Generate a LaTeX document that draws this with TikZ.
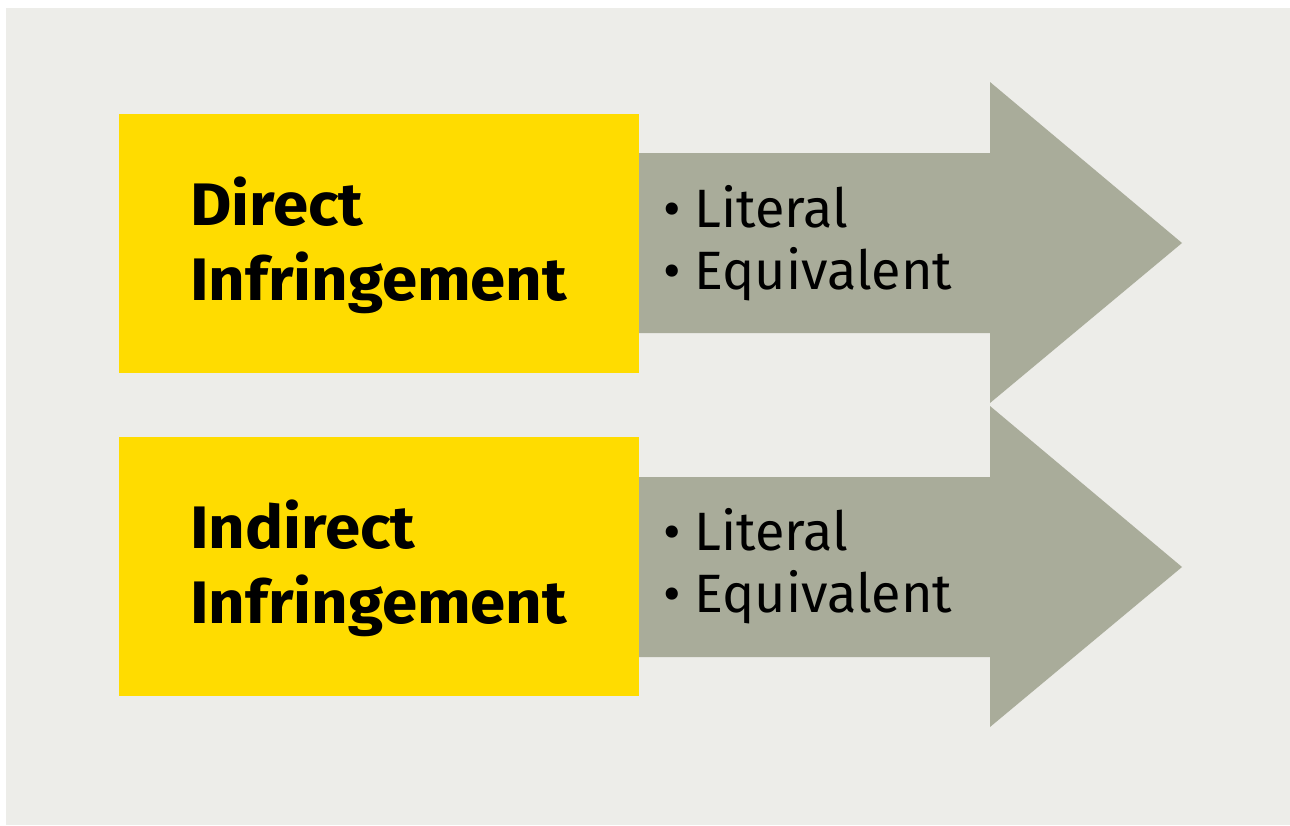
\documentclass[tikz,border=0pt]{standalone}
\usepackage{fontspec}
\setmainfont{Fira Sans}
\newfontfamily\headfont{Fira Sans}[FakeStretch=1.06]
\definecolor{paper}{HTML}{EDEDE9}
\definecolor{boxyellow}{HTML}{FFDC00}
\definecolor{arrowgray}{HTML}{A9AC9A}
\tikzset{
    kindbox/.style={fill=boxyellow, draw=none, minimum width=520pt, minimum height=259pt, anchor=north west, inner sep=0pt},
    kindtext/.style={anchor=base west, inner sep=0pt, font=\headfont\fontsize{60}{72}\selectfont\bfseries},
    itemtext/.style={anchor=base west, inner sep=0pt, font=\fontsize{54}{64}\selectfont},
}
\begin{document}
\begin{tikzpicture}[x=1pt, y=-1pt]
        \fill[white] (0,0) rectangle (1290, 825);
        \fill[paper] (6,8) rectangle (1290, 825);
        \useasboundingbox (0,0) rectangle (1290, 825);

        % upper arrow and box
        \fill[arrowgray] (639, 153) -- (990, 153) -- (990, 82) -- (1182, 243) -- (990, 403) -- (990, 333) -- (639, 333) -- cycle;
        \node[kindbox] (direct) at (119, 114) {};
        \node[kindtext] (direct1) at (190, 225) {Direct};
        \node[kindtext] (direct2) at (190, 300) {Infringement};
        \node[itemtext] (direct3) at (663, 227) {\textbullet\hspace{14pt}Literal};
        \node[itemtext] (direct4) at (663, 289) {\textbullet\hspace{14pt}Equivalent};

        % lower arrow and box
        \fill[arrowgray] (639, 477) -- (990, 477) -- (990, 406) -- (1182, 567) -- (990, 727) -- (990, 657) -- (639, 657) -- cycle;
        \node[kindbox] (indirect) at (119, 437) {};
        \node[kindtext] (indirect1) at (190, 548) {Indirect};
        \node[kindtext] (indirect2) at (190, 623) {Infringement};
        \node[itemtext] (indirect3) at (663, 550) {\textbullet\hspace{14pt}Literal};
        \node[itemtext] (indirect4) at (663, 612) {\textbullet\hspace{14pt}Equivalent};
\end{tikzpicture}
\end{document}
